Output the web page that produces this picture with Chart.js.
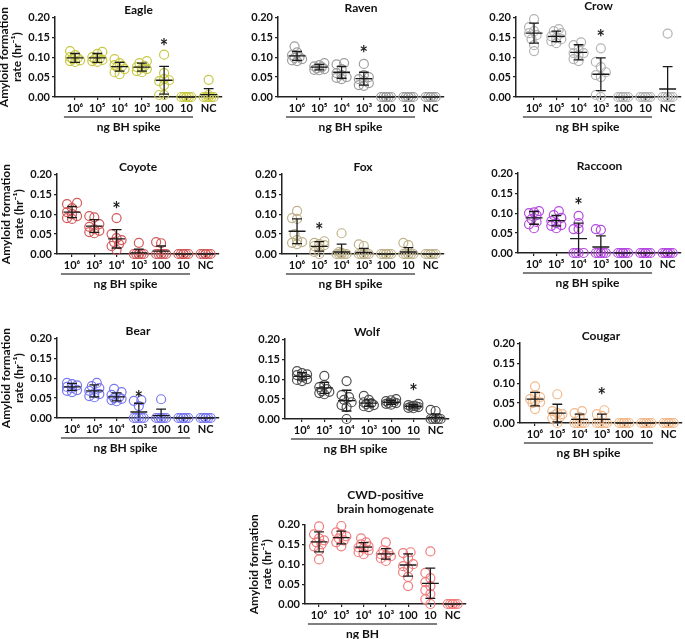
<!DOCTYPE html>
<html>
<head>
<meta charset="utf-8">
<script src="https://cdn.jsdelivr.net/npm/chart.js@4/dist/chart.umd.min.js"></script>
<style>
  body { margin: 0; background: #fff; width: 685px; height: 639px; position: relative; overflow: hidden; }
  canvas { position: absolute; }
</style>
</head>
<body>
<script>
const doses = ["10⁶", "10⁵", "10⁴", "10³", "100", "10", "NC"];
const zeros = [0, 0, 0, 0, 0, 0, 0, 0];

const eaglePoints = [
  [0.115, 0.105, 0.100, 0.098, 0.095, 0.090, 0.088, 0.092],
  [0.113, 0.108, 0.100, 0.097, 0.093, 0.090, 0.088, 0.095],
  [0.095, 0.085, 0.078, 0.075, 0.070, 0.062, 0.057, 0.080],
  [0.090, 0.085, 0.078, 0.075, 0.070, 0.065, 0.062, 0.072],
  [0.106, 0.060, 0.045, 0.042, 0.040, 0.030, 0.005, 0.005],
  zeros,
  [0.043, 0.005, 0, 0, 0, 0, 0, 0],
];
const eagleMean = [0.098, 0.098, 0.076, 0.075, 0.042, 0, 0.006];
const eagleSd = [0.011, 0.011, 0.011, 0.010, 0.035, 0, 0.015];

const ravenPoints = [
  [0.127, 0.112, 0.105, 0.100, 0.098, 0.095, 0.092, 0.090],
  [0.085, 0.080, 0.077, 0.075, 0.072, 0.070, 0.067, 0.068],
  [0.085, 0.082, 0.070, 0.060, 0.055, 0.048, 0.045, 0.050],
  [0.083, 0.055, 0.050, 0.045, 0.040, 0.035, 0.030, 0.028],
  zeros, zeros, zeros,
];
const ravenMean = [0.103, 0.075, 0.062, 0.046, 0, 0, 0];
const ravenSd = [0.011, 0.007, 0.015, 0.016, 0, 0, 0];

const crowPoints = [
  [0.195, 0.175, 0.165, 0.160, 0.155, 0.145, 0.130, 0.115],
  [0.170, 0.165, 0.160, 0.152, 0.148, 0.140, 0.135, 0.145],
  [0.137, 0.130, 0.120, 0.110, 0.105, 0.095, 0.090, 0.110],
  [0.122, 0.088, 0.075, 0.062, 0.055, 0.050, 0.005, 0],
  zeros, zeros,
  [0.159, 0, 0, 0, 0, 0, 0, 0],
];
const crowMean = [0.160, 0.152, 0.112, 0.057, 0, 0, 0.020];
const crowSd = [0.025, 0.013, 0.019, 0.041, 0, 0, 0.056];

const coyotePoints = [
  [0.128, 0.125, 0.115, 0.105, 0.100, 0.095, 0.090, 0.088],
  [0.095, 0.092, 0.075, 0.068, 0.062, 0.055, 0.052, 0.058],
  [0.090, 0.050, 0.040, 0.035, 0.030, 0.025, 0.020, 0.010],
  [0.028, 0, 0, 0, 0, 0, 0, 0],
  [0.030, 0.027, 0, 0, 0, 0, 0, 0],
  zeros, zeros,
];
const coyoteMean = [0.105, 0.070, 0.038, 0.003, 0.007, 0, 0];
const coyoteSd = [0.014, 0.016, 0.023, 0.009, 0.013, 0, 0];

const foxPoints = [
  [0.108, 0.090, 0.088, 0.050, 0.035, 0.030, 0.028, 0.025],
  [0.032, 0.028, 0.025, 0.022, 0.020, 0.015, 0.005, 0],
  [0.052, 0.005, 0.003, 0, 0, 0, 0, 0],
  [0.024, 0.020, 0, 0, 0, 0, 0, 0],
  zeros,
  [0.028, 0.022, 0, 0, 0, 0, 0, 0],
  zeros,
];
const foxMean = [0.057, 0.019, 0.005, 0.004, 0, 0.005, 0];
const foxSd = [0.031, 0.012, 0.020, 0.010, 0, 0.011, 0];

const raccoonPoints = [
  [0.105, 0.102, 0.100, 0.095, 0.085, 0.078, 0.072, 0.062],
  [0.105, 0.095, 0.088, 0.080, 0.075, 0.070, 0.068, 0.062],
  [0.093, 0.075, 0.060, 0.060, 0, 0, 0, 0],
  [0.060, 0.058, 0, 0, 0, 0, 0, 0],
  zeros, zeros,
  [0, 0, 0, 0, 0, 0, 0, 0, 0, 0, 0, 0],
];
const raccoonMean = [0.088, 0.081, 0.036, 0.015, 0, 0, 0];
const raccoonSd = [0.016, 0.013, 0.039, 0.028, 0, 0, 0];

const bearPoints = [
  [0.088, 0.085, 0.082, 0.078, 0.075, 0.070, 0.068, 0.065],
  [0.088, 0.080, 0.075, 0.068, 0.062, 0.055, 0.052, 0.060],
  [0.073, 0.065, 0.058, 0.052, 0.048, 0.045, 0.042, 0.050],
  [0.045, 0.043, 0.030, 0, 0, 0, 0, 0],
  [0.047, 0, 0, 0, 0, 0, 0, 0],
  zeros, zeros,
];
const bearMean = [0.078, 0.068, 0.053, 0.015, 0.006, 0, 0];
const bearSd = [0.009, 0.015, 0.010, 0.022, 0.016, 0, 0];

const wolfPoints = [
  [0.120, 0.115, 0.110, 0.105, 0.100, 0.098, 0.095, 0.112],
  [0.108, 0.085, 0.080, 0.075, 0.070, 0.068, 0.065, 0.062],
  [0.095, 0.060, 0.055, 0.048, 0.042, 0.035, 0.030, 0],
  [0.058, 0.048, 0.042, 0.040, 0.037, 0.035, 0.032, 0.030],
  [0.050, 0.047, 0.045, 0.042, 0.040, 0.038, 0.036, 0.040],
  [0.038, 0.035, 0.033, 0.031, 0.030, 0.028, 0.027, 0.032],
  [0.023, 0.020, 0, 0, 0, 0, 0, 0],
];
const wolfMean = [0.107, 0.078, 0.046, 0.040, 0.042, 0.032, 0.004];
const wolfSd = [0.009, 0.014, 0.026, 0.008, 0.005, 0.004, 0.009];

const cougarPoints = [
  [0.092, 0.070, 0.065, 0.060, 0.055, 0.052, 0.050, 0.035],
  [0.072, 0.030, 0.025, 0.022, 0.020, 0.015, 0.012, 0],
  [0.030, 0.025, 0.015, 0, 0, 0, 0, 0],
  [0.032, 0.022, 0.018, 0, 0, 0, 0, 0],
  zeros, zeros, zeros,
];
const cougarMean = [0.060, 0.025, 0.009, 0.009, 0, 0, 0];
const cougarSd = [0.017, 0.022, 0.013, 0.013, 0, 0, 0];

const cwdPoints = [
  [0.195, 0.175, 0.165, 0.160, 0.155, 0.150, 0.145, 0.135, 0.112],
  [0.196, 0.180, 0.175, 0.170, 0.165, 0.160, 0.155, 0.145],
  [0.165, 0.155, 0.150, 0.145, 0.142, 0.140, 0.135, 0.130, 0.125],
  [0.155, 0.135, 0.130, 0.125, 0.122, 0.120, 0.115, 0.108],
  [0.130, 0.128, 0.115, 0.100, 0.095, 0.090, 0.080, 0.068, 0.045],
  [0.132, 0.078, 0.065, 0.055, 0.045, 0.035, 0.025, 0.012, 0],
  zeros,
];
const cwdMean = [0.156, 0.167, 0.143, 0.126, 0.098, 0.052, 0];
const cwdSd = [0.025, 0.016, 0.011, 0.013, 0.028, 0.038, 0];

// significance stars: group index and height, one per panel (-1 = none)
const starGroup = [4, 3, 3, 2, 1, 2, 3, 5, 3, -1];
const starLevel = [0.137, 0.118, 0.160, 0.122, 0.068, 0.128, 0.058, 0.078, 0.078, 0];

const FONT = "Lato, 'Open Sans', sans-serif";
const SP = 22.2;      // px per dose group
const PLOT_H = 80;    // px for 0 .. 0.20
const X_H = 40;
Chart.defaults.font.family = FONT;
Chart.defaults.color = "#111";

const panels = [
  { title: "Eagle", pts: eaglePoints, mean: eagleMean, sd: eagleSd, color: "#c8c846", axisX: 55, top: 17, first: 75, gap: 0, yTitle: true },
  { title: "Raven", pts: ravenPoints, mean: ravenMean, sd: ravenSd, color: "#9e9e9e", axisX: 278, top: 17, first: 297, gap: 2 },
  { title: "Crow", pts: crowPoints, mean: crowMean, sd: crowSd, color: "#b4b4b4", axisX: 516, top: 17, first: 534, gap: 4 },
  { title: "Coyote", pts: coyotePoints, mean: coyoteMean, sd: coyoteSd, color: "#d25a5a", axisX: 57, top: 174, first: 72, gap: 0, yTitle: true },
  { title: "Fox", pts: foxPoints, mean: foxMean, sd: foxSd, color: "#bfb28a", axisX: 282, top: 174, first: 297, gap: 0 },
  { title: "Raccoon", pts: raccoonPoints, mean: raccoonMean, sd: raccoonSd, color: "#b44ae0", axisX: 518, top: 173, first: 534, gap: 0 },
  { title: "Bear", pts: bearPoints, mean: bearMean, sd: bearSd, color: "#7878f0", axisX: 57, top: 338, first: 72, gap: 0, yTitle: true },
  { title: "Wolf", pts: wolfPoints, mean: wolfMean, sd: wolfSd, color: "#505050", axisX: 285, top: 339, first: 302, gap: 0 },
  { title: "Cougar", pts: cougarPoints, mean: cougarMean, sd: cougarSd, color: "#f2b98a", axisX: 520, top: 343, first: 535, gap: 0 },
  { title: ["CWD-positive", "brain homogenate"], pts: cwdPoints, mean: cwdMean, sd: cwdSd, color: "#f07c7c", axisX: 305, top: 524, first: 319, gap: 9, yTitle: true, xLabel: "ng BH", labelAt: 1.95 },
];

// simple beeswarm: horizontal offsets (in group units) so circles don't pile up
function swarm(values) {
  const pxY = PLOT_H / 0.2, cand = [0, -2.5, 2.5, -5, 5];
  const placed = [];
  const off = new Array(values.length).fill(0);
  const order = values.map((v, i) => i).sort((a, b) => values[a] - values[b]);
  order.forEach((i) => {
    const py = values[i] * pxY;
    let best = 0, bestD = -1;
    for (const c of cand) {
      let d = Infinity;
      placed.forEach((p) => { d = Math.min(d, Math.hypot(p.x - c, p.y - py)); });
      if (d >= 6) { best = c; break; }
      if (d > bestD) { bestD = d; best = c; }
    }
    placed.push({ x: best, y: py });
    off[i] = best / SP;
  });
  return off;
}

const extras = {
  id: "extras",
  afterDatasetsDraw(chart, args, o) {
    const { ctx, scales: { x, y }, chartArea } = chart;
    ctx.save();
    ctx.strokeStyle = "#1a1a1a";
    ctx.lineWidth = 1.3;
    ctx.beginPath();
    o.mean.forEach((m, i) => {
      const s = o.sd[i];
      const ym = y.getPixelForValue(m);
      const yt = y.getPixelForValue(m + s);
      const yb = y.getPixelForValue(Math.max(m - s, 0));
      ctx.moveTo(x.getPixelForValue(i - 0.38), ym);
      ctx.lineTo(x.getPixelForValue(i + 0.38), ym);
      ctx.moveTo(x.getPixelForValue(i), yt);
      ctx.lineTo(x.getPixelForValue(i), yb);
      ctx.moveTo(x.getPixelForValue(i - 0.22), yt);
      ctx.lineTo(x.getPixelForValue(i + 0.22), yt);
      if (m - s >= 0) {
        ctx.moveTo(x.getPixelForValue(i - 0.22), yb);
        ctx.lineTo(x.getPixelForValue(i + 0.22), yb);
      }
    });
    ctx.stroke();
    if (o.star >= 0) {
      ctx.fillStyle = "#222";
      ctx.font = "bold 20px " + FONT;
      ctx.textAlign = "center";
      ctx.textBaseline = "middle";
      ctx.fillText("*", x.getPixelForValue(o.star), y.getPixelForValue(o.starY) + 5);
    }
    // bracket under the dilution labels
    const by = chartArea.bottom + 20;
    ctx.strokeStyle = "#555";
    ctx.lineWidth = 1.5;
    ctx.beginPath();
    ctx.moveTo(x.getPixelForValue(-0.5), by);
    ctx.lineTo(x.getPixelForValue(5.3), by);
    ctx.stroke();
    ctx.fillStyle = "#111";
    ctx.font = "bold 12px " + FONT;
    ctx.textAlign = "center";
    ctx.textBaseline = "middle";
    ctx.fillText(o.xLabel, x.getPixelForValue(o.labelAt), chartArea.bottom + 30);
    ctx.restore();
  },
};

panels.forEach((p, idx) => {
  const lines = Array.isArray(p.title) ? p.title.length : 1;
  const titleH = 2 + 12 * 1.1 * lines + p.gap;
  const yW = p.yTitle ? 57 : 30;
  const xMin = -(p.first - p.axisX) / SP, xMax = 6.6;
  const w = Math.round(yW + (xMax - xMin) * SP + 10);
  const h = Math.round(titleH + PLOT_H + X_H);
  const canvas = document.createElement("canvas");
  canvas.width = w;
  canvas.height = h;
  canvas.style.left = (p.axisX - yW) + "px";
  canvas.style.top = (p.top - titleH) + "px";
  document.body.appendChild(canvas);

  const data = p.pts.flatMap((grp, i) => {
    const off = swarm(grp);
    return grp.map((v, k) => ({ x: i + off[k], y: v }));
  });

  new Chart(canvas, {
    type: "scatter",
    data: {
      datasets: [{
        data: data,
        borderColor: p.color,
        backgroundColor: "rgba(0,0,0,0)",
        pointRadius: 4.5,
        pointBorderWidth: 1.2,
        clip: false,
      }],
    },
    plugins: [extras],
    options: {
      responsive: false,
      animation: false,
      layout: { padding: { left: 0, right: 10, top: 0, bottom: 0 } },
      plugins: {
        legend: { display: false },
        tooltip: { enabled: false },
        title: {
          display: true,
          text: p.title,
          fullSize: false,
          font: { size: 12, weight: "bold", lineHeight: 1.1 },
          color: "#111",
          padding: { top: 2, bottom: p.gap },
        },
        extras: {
          mean: p.mean,
          sd: p.sd,
          star: starGroup[idx],
          starY: starLevel[idx],
          xLabel: p.xLabel || "ng BH spike",
          labelAt: p.labelAt || 2.4,
        },
      },
      scales: {
        x: {
          type: "linear",
          min: xMin,
          max: xMax,
          afterBuildTicks: (s) => { s.ticks = doses.map((d, i) => ({ value: i })); },
          afterFit: (s) => { s.height = X_H; },
          ticks: {
            callback: (v) => doses[v],
            font: { size: 11, weight: "bold" },
            color: "#111",
            padding: 2,
            maxRotation: 0,
            autoSkip: false,
          },
          grid: { drawOnChartArea: false, drawTicks: true, tickLength: 3, color: "#222", lineWidth: 1.2 },
          border: { color: "#222", width: 1.5 },
        },
        y: {
          min: 0,
          max: 0.2,
          afterFit: (s) => { s.width = yW; },
          ticks: {
            stepSize: 0.05,
            callback: (v) => v.toFixed(2),
            font: { size: 11, weight: "bold" },
            color: "#111",
            padding: 2,
          },
          grid: { drawOnChartArea: false, drawTicks: true, tickLength: 3, color: "#222", lineWidth: 1.2 },
          border: { color: "#222", width: 1.5 },
          title: {
            display: !!p.yTitle,
            text: ["Amyloid formation", "rate (hr⁻¹)"],
            font: { size: 12, weight: "bold", lineHeight: 1.05 },
            color: "#111",
            padding: 0,
          },
        },
      },
    },
  });
});
</script>
</body>
</html>
